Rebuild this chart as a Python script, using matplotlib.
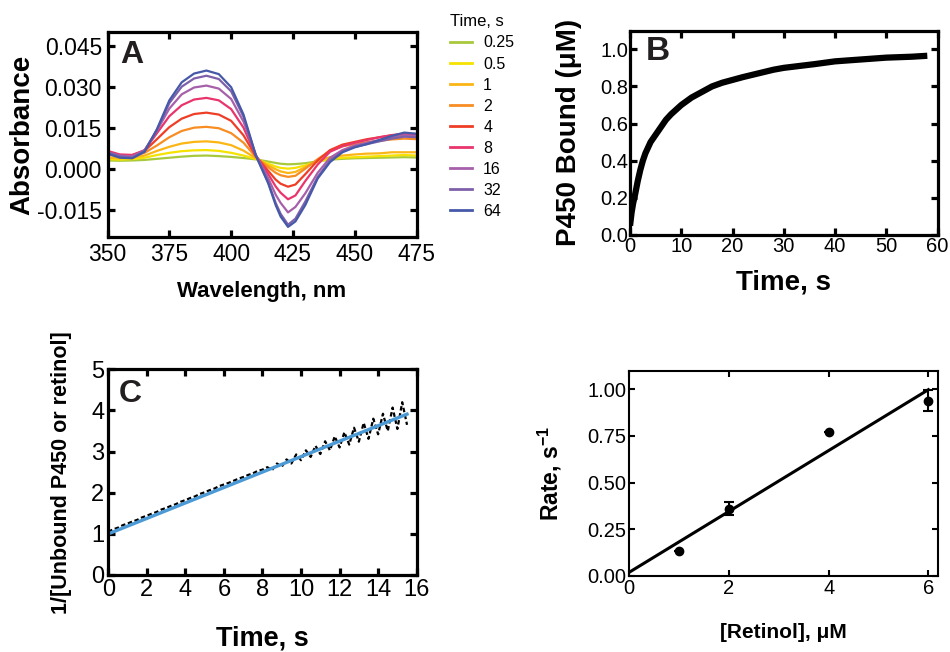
import matplotlib
matplotlib.use("Agg")
import matplotlib.pyplot as plt
from matplotlib.ticker import FormatStrFormatter

plt.rcParams['font.family'] = ['Liberation Sans', 'DejaVu Sans']
plt.rcParams['mathtext.fontset'] = 'custom'
plt.rcParams['mathtext.rm'] = 'Liberation Sans'
plt.rcParams['mathtext.bf'] = 'Liberation Sans:bold'

# ---- panel A: difference spectra at several times ----
wavelength = [350, 355, 360, 365, 370, 375, 380, 385, 390, 395, 400, 405, 410, 415,
              418, 420, 423, 426, 430, 435, 440, 445, 450, 455, 460, 465, 470, 475]
times = ['0.25', '0.5', '1', '2', '4', '8', '16', '32', '64']
abs_025 = [.0030, .0029, .0030, .0032, .0036, .0040, .0044, .0047, .0048, .0046, .0043, .0039, .0034, .0026,
           .0021, .0018, .0016, .0017, .0020, .0027, .0033, .0036, .0038, .0039, .0040, .0041, .0042, .0041]
abs_05 = [.0035, .0033, .0035, .0040, .0050, .0058, .0064, .0067, .0068, .0065, .0058, .0048, .0035, .0018,
          .0008, .0003, .0000, .0003, .0012, .0026, .0036, .0040, .0042, .0044, .0046, .0048, .0050, .0048]
abs_1 = [.0040, .0038, .0040, .0048, .0065, .0080, .0092, .0098, .0100, .0096, .0086, .0066, .0038, .0012,
         -.0002, -.0010, -.0016, -.0012, .0006, .0028, .0042, .0048, .0052, .0055, .0056, .0060, .0060, .0060]
abs_2 = [.0050, .0045, .0045, .0058, .0085, .0115, .0138, .0150, .0153, .0148, .0130, .0095, .0042, .0005,
         -.0015, -.0024, -.0030, -.0026, .0000, .0035, .0065, .0082, .0090, .0097, .0102, .0107, .0110, .0108]
abs_4 = [.0060, .0050, .0050, .0065, .0108, .0152, .0183, .0200, .0205, .0198, .0175, .0122, .0045, -.0008,
         -.0040, -.0055, -.0066, -.0058, -.0020, .0030, .0068, .0088, .0098, .0108, .0115, .0122, .0126, .0125]
abs_8 = [.0065, .0052, .0050, .0068, .0130, .0192, .0232, .0253, .0259, .0250, .0218, .0150, .0048, -.0020,
         -.0065, -.0088, -.0112, -.0098, -.0045, .0015, .0062, .0082, .0095, .0105, .0115, .0123, .0128, .0125]
abs_16 = [.0060, .0048, .0045, .0068, .0140, .0220, .0272, .0297, .0304, .0293, .0255, .0172, .0050, -.0035,
          -.0095, -.0125, -.0160, -.0140, -.0090, -.0015, .0040, .0068, .0085, .0095, .0105, .0115, .0122, .0120]
abs_32 = [.0060, .0045, .0040, .0065, .0142, .0240, .0300, .0330, .0340, .0328, .0283, .0190, .0048, -.0050,
          -.0125, -.0165, -.0205, -.0183, -.0120, -.0030, .0030, .0062, .0080, .0090, .0100, .0110, .0117, .0115]
abs_64 = [.0055, .0040, .0038, .0062, .0145, .0250, .0316, .0348, .0359, .0346, .0298, .0198, .0048, -.0054,
          -.0133, -.0175, -.0213, -.0193, -.0133, -.0036, .0024, .0060, .0078, .0090, .0105, .0120, .0132, .0128]
spectra = [abs_025, abs_05, abs_1, abs_2, abs_4, abs_8, abs_16, abs_32, abs_64]
spec_colors = ['#a9c93d', '#f6e200', '#fbb515', '#f78d23', '#ee3f26', '#e9356c',
               '#a660aa', '#7e60aa', '#4659a8']

# ---- panel B: P450 bound vs time ----
b_time = [0, 0.3, 0.6, 1, 1.5, 2, 2.5, 3, 4, 5, 6, 7, 8, 9, 10, 12, 14, 16, 18, 20,
          22, 25, 28, 30, 33, 36, 40, 45, 50, 55, 58]
b_bound = [0.05, 0.12, 0.17, 0.22, 0.29, 0.35, 0.40, 0.44, 0.50, 0.54, 0.58, 0.62, 0.65, 0.675, 0.70,
           0.74, 0.77, 0.80, 0.82, 0.835, 0.85, 0.87, 0.89, 0.90, 0.91, 0.92, 0.935, 0.945, 0.955, 0.96, 0.965]

# ---- panel C: second-order plot ----
c_time = [0, 0.25, 0.5, 0.75, 1, 1.25, 1.5, 1.75, 2, 2.25, 2.5, 2.75, 3, 3.25, 3.5, 3.75, 4,
          4.25, 4.5, 4.75, 5, 5.25, 5.5, 5.75, 6, 6.25, 6.5, 6.75, 7, 7.25, 7.5, 7.75, 8,
          8.25, 8.5, 8.75, 9, 9.25, 9.5, 9.75, 10, 10.25, 10.5, 10.75, 11, 11.25, 11.5, 11.75, 12,
          12.25, 12.5, 12.75, 13, 13.25, 13.5, 13.75, 14, 14.25, 14.5, 14.75, 15, 15.25, 15.5]
c_inv = [1.05, 1.11, 1.15, 1.21, 1.25, 1.30, 1.34, 1.40, 1.44, 1.49, 1.53, 1.59, 1.63, 1.68, 1.72, 1.78, 1.82,
         1.87, 1.91, 1.97, 2.01, 2.06, 2.10, 2.16, 2.20, 2.24, 2.29, 2.34, 2.38, 2.43, 2.47, 2.53, 2.56,
         2.62, 2.55, 2.71, 2.63, 2.81, 2.71, 2.93, 2.79, 3.03, 2.87, 3.14, 2.94, 3.25, 3.03, 3.37, 3.10,
         3.47, 3.17, 3.58, 3.24, 3.70, 3.31, 3.80, 3.42, 3.92, 3.50, 4.07, 3.55, 4.20, 3.65]
c_fit_time = [0, 15.5]
c_fit = [1.0, 3.91]

# ---- panel D: observed rate vs retinol ----
retinol = [1, 2, 4, 6]
rate = [0.135, 0.36, 0.77, 0.94]
rate_err = [0, 0.035, 0, 0.058]
kon, koff = 0.163, 0.02
d_fit_x = [0, 6]

fig = plt.figure(figsize=(9.5, 6.52), dpi=100)
axA = fig.add_axes([0.1132, 0.6365, 0.3253, 0.3144])
axB = fig.add_axes([0.6632, 0.6396, 0.3237, 0.3133])
axC = fig.add_axes([0.1140, 0.1181, 0.3246, 0.3155])
axD = fig.add_axes([0.6624, 0.1166, 0.3253, 0.3149])


def style(ax, lw, ticklen, size, pad):
    for s in ax.spines.values():
        s.set_linewidth(lw)
    ax.tick_params(direction='in', top=True, right=True, length=ticklen, width=lw,
                   labelsize=size, pad=pad)


# A
for vals, c, t in zip(spectra, spec_colors, times):
    axA.plot(wavelength, vals, color=c, lw=1.6, label=t)
axA.set_xlim(350, 475)
axA.set_ylim(-0.025, 0.05)
axA.set_xticks([350, 375, 400, 425, 450, 475])
axA.set_yticks([-0.015, 0, 0.015, 0.030, 0.045])
axA.yaxis.set_major_formatter(FormatStrFormatter('%.3f'))
style(axA, 2.3, 5, 16.5, 4)
axA.set_xlabel('Wavelength, nm', fontsize=16, fontweight='bold', va='top')
axA.xaxis.set_label_coords(0.5, -0.215)
axA.set_ylabel('Absorbance', fontsize=20, fontweight='bold')
axA.yaxis.set_label_coords(-0.235, 0.5)
axA.text(0.04, 0.85, 'A', transform=axA.transAxes, fontsize=23, fontweight='bold',
         color='#231f20', va='baseline')
leg = fig.legend(loc='upper left', bbox_to_anchor=(0.459, 1.0), frameon=False, fontsize=11.5,
                 title='Time, s', title_fontsize=12, handlelength=1.35, handletextpad=0.7,
                 labelspacing=0.38, alignment='left')
for h in leg.get_lines():
    h.set_linewidth(2)

# B
axB.plot(b_time, b_bound, color='black', lw=4.5, solid_capstyle='butt')
axB.set_xlim(0, 60)
axB.set_ylim(0, 1.1)
axB.set_xticks(range(0, 61, 10))
axB.set_yticks([0, 0.2, 0.4, 0.6, 0.8, 1.0])
axB.yaxis.set_major_formatter(FormatStrFormatter('%.1f'))
style(axB, 2.3, 5, 14.5, 1.5)
axB.set_xlabel('Time, s', fontsize=20, fontweight='bold', va='top')
axB.xaxis.set_label_coords(0.5, -0.17)
axB.set_ylabel('P450 Bound (μM)', fontsize=20, fontweight='bold')
axB.yaxis.set_label_coords(-0.155, 0.5)
axB.text(0.052, 0.857, 'B', transform=axB.transAxes, fontsize=24, fontweight='bold',
         color='#231f20', va='baseline')

# C
axC.plot(c_time, c_inv, color='black', lw=1.6, ls=(0, (2, 1.2)))
axC.plot(c_fit_time, c_fit, color='#4b9ad6', lw=2.4)
axC.set_xlim(0, 16)
axC.set_ylim(0, 5)
axC.set_xticks(range(0, 17, 2))
axC.set_yticks(range(0, 6))
style(axC, 2.3, 5, 17, 3)
axC.set_xlabel('Time, s', fontsize=19.5, fontweight='bold', va='top')
axC.xaxis.set_label_coords(0.5, -0.245)
axC.set_ylabel('1/[Unbound P450 or retinol]', fontsize=15.5, fontweight='bold')
axC.yaxis.set_label_coords(-0.118, 0.5)
axC.text(0.035, 0.841, 'C', transform=axC.transAxes, fontsize=23, fontweight='bold',
         color='#231f20', va='baseline')

# D
axD.plot(d_fit_x, [koff + kon * x for x in d_fit_x], color='black', lw=2.2)
axD.errorbar(retinol, rate, yerr=rate_err, fmt='o', color='black', ms=6,
             capsize=3.5, elinewidth=1.5, capthick=1.5)
axD.set_xlim(0, 6.2)
axD.set_ylim(0, 1.1)
axD.set_xticks([0, 2, 4, 6])
axD.set_yticks([0, 0.25, 0.5, 0.75, 1.0])
axD.yaxis.set_major_formatter(FormatStrFormatter('%.2f'))
style(axD, 1.5, 4, 14.5, 2)
axD.set_xlabel('[Retinol], μM', fontsize=15, fontweight='bold', va='top')
axD.xaxis.set_label_coords(0.5, -0.229)
axD.set_ylabel(r'Rate, s$^{\mathbf{-1}}$', fontsize=16.5, fontweight='bold')
axD.yaxis.set_label_coords(-0.21, 0.5)

fig.savefig('out.png', dpi=100)
